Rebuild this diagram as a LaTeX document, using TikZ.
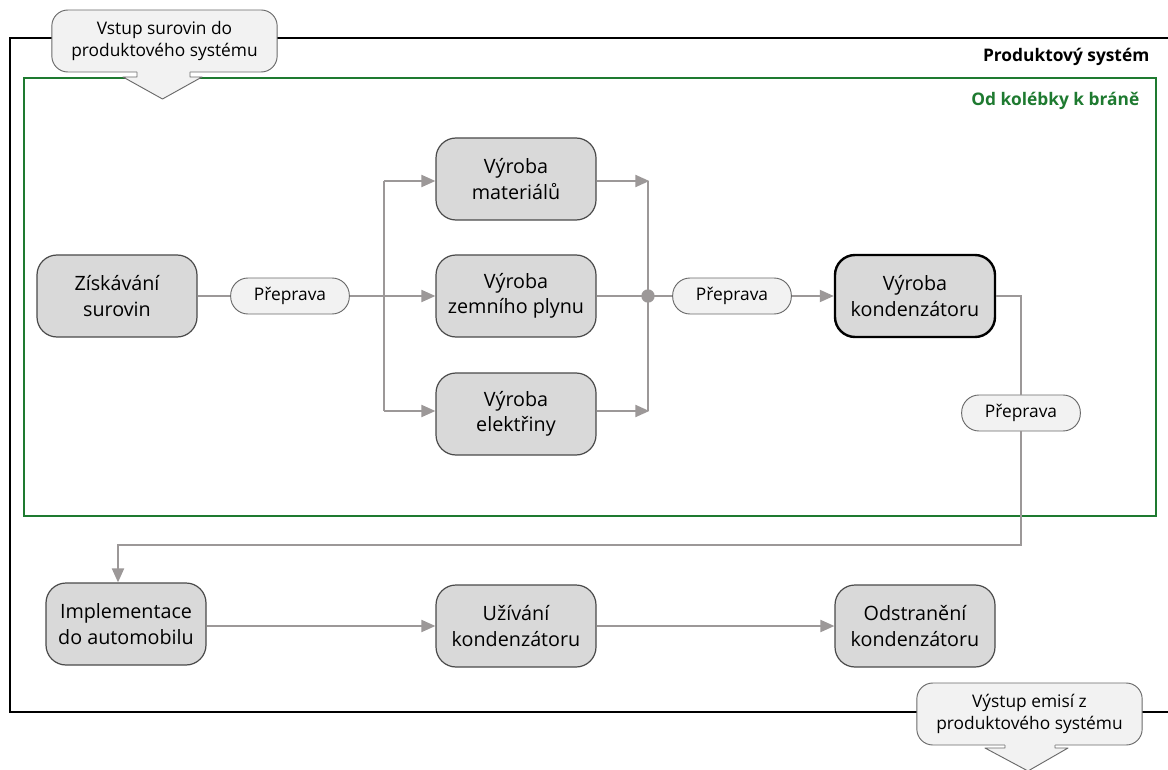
\documentclass[tikz,border=0pt]{standalone}
\usepackage{fontspec}
\setmainfont{Open Sans}
\usetikzlibrary{arrows.meta}
\definecolor{boxfill}{HTML}{D9D9D9}
\definecolor{boxline}{HTML}{4A4A4A}
\definecolor{pillfill}{HTML}{F2F2F2}
\definecolor{pillline}{HTML}{6A6A6A}
\definecolor{conn}{HTML}{9C9898}
\definecolor{gategreen}{HTML}{1E7A30}
\tikzset{
  proc/.style={draw=boxline, line width=0.9pt, fill=boxfill, rounded corners=15pt,
    minimum width=120pt, minimum height=61.5pt, align=center, inner sep=2pt,
    font=\fontsize{14.8}{19}\selectfont},
  mainproc/.style={proc, draw=black, line width=1.8pt},
  pill/.style={draw=pillline, line width=0.7pt, fill=pillfill, rounded corners=13pt,
    minimum width=89pt, minimum height=27pt, inner sep=1pt,
    font=\fontsize{13}{15}\selectfont},
  callout/.style={draw=pillline, line width=0.7pt, fill=pillfill, rounded corners=12pt,
    minimum width=169pt, minimum height=46.5pt, align=center, inner sep=1pt,
    font=\fontsize{13}{16.5}\selectfont},
  link/.style={draw=conn, line width=1.5pt},
  arr/.style={link, -{Triangle[length=10.5pt,width=9pt]}},
  title/.style={anchor=east, font=\bfseries\fontsize{13}{15}\selectfont},
}
\begin{document}
\begin{tikzpicture}[x=0.75pt,y=-0.75pt]
\useasboundingbox (0,0) rectangle (1168,770);
\fill[white] (0,0) rectangle (1168,770);
% frames
\draw[black, line width=1.6pt] (10,38) rectangle (1170,712);
\draw[gategreen, line width=1.6pt] (24,78) rectangle (1156,516);
\node[title] (lps) at (1154,57) {Produktový systém};
\node[title, text=gategreen] (lgate) at (1144,101) {Od kolébky k bráně};

% process nodes
\node[proc] (zisk) at (117,296) {Získávání\\surovin};
\node[proc] (mat) at (516,179) {Výroba\\materiálů};
\node[proc] (plyn) at (516,296) {Výroba\\zemního plynu};
\node[proc] (elek) at (516,414) {Výroba\\elektřiny};
\node[mainproc] (kond) at (915,296) {Výroba\\kondenzátoru};
\node[proc] (impl) at (126,624) {Implementace\\do automobilu};
\node[proc] (uziv) at (516,626) {Užívání\\kondenzátoru};
\node[proc] (odst) at (915,626) {Odstranění\\kondenzátoru};

% transport pills
\node[pill] (p1) at (290,296) {Přeprava};
\node[pill] (p2) at (732,296) {Přeprava};
\node[pill] (p3) at (1021,413) {Přeprava};

% junction coordinates
\coordinate (sTop) at (384,181);
\coordinate (sBot) at (384,411);
\coordinate (jTop) at (648,181);
\coordinate (jMid) at (648,296);
\coordinate (jBot) at (648,411);
\coordinate (kOut) at (1021,296);
\coordinate (rDown) at (1021,545);
\coordinate (lDown) at (118,545);

% connectors
\draw[link] (zisk.east) -- (p1.west);
\draw[arr] (p1.east) -- (plyn.west);
\draw[link] (sTop) -- (sBot);
\draw[arr] (sTop) -- (sTop -| mat.west);
\draw[arr] (sBot) -- (sBot -| elek.west);
\draw[arr] (mat.east |- jTop) -- ([xshift=1pt]jTop);
\draw[arr] (elek.east |- jBot) -- ([xshift=1pt]jBot);
\draw[link] (jTop) -- (jBot);
\draw[link] (plyn.east) -- (jMid) -- (p2.west);
\fill[conn] (jMid) circle (5pt);
\draw[arr] (p2.east) -- (kond.west);
\draw[link] (kond.east) -- (kOut) -- (p3.north);
\draw[arr] (p3.south) -- (rDown) -- (lDown) -- (lDown |- impl.north);
\draw[arr] (impl.east |- uziv.west) -- (uziv.west);
\draw[arr] (uziv.east) -- (odst.west);

% callouts
\node[callout] (cin) at (164.5,41) {Vstup surovin do\\produktového systému};
\fill[pillfill] (137,70) -- (137,77) -- (123,77) -- (162.5,99) -- (202,77) -- (190,77) -- (190,70) -- cycle;
\draw[pillline, line width=0.7pt, line join=round] (137,72) -- (137,77) -- (123,77) -- (162.5,99) -- (202,77) -- (190,77) -- (190,72);

\node[callout] (cout) at (1029.5,714) {Výstup emisí z\\produktového systému};
\fill[pillfill] (1005,743) -- (1005,748) -- (985,748) -- (1028,771) -- (1068,748) -- (1055,748) -- (1055,743) -- cycle;
\draw[pillline, line width=0.7pt, line join=round] (1005,745) -- (1005,748) -- (985,748) -- (1028,771) -- (1068,748) -- (1055,748) -- (1055,745);
\end{tikzpicture}
\end{document}
